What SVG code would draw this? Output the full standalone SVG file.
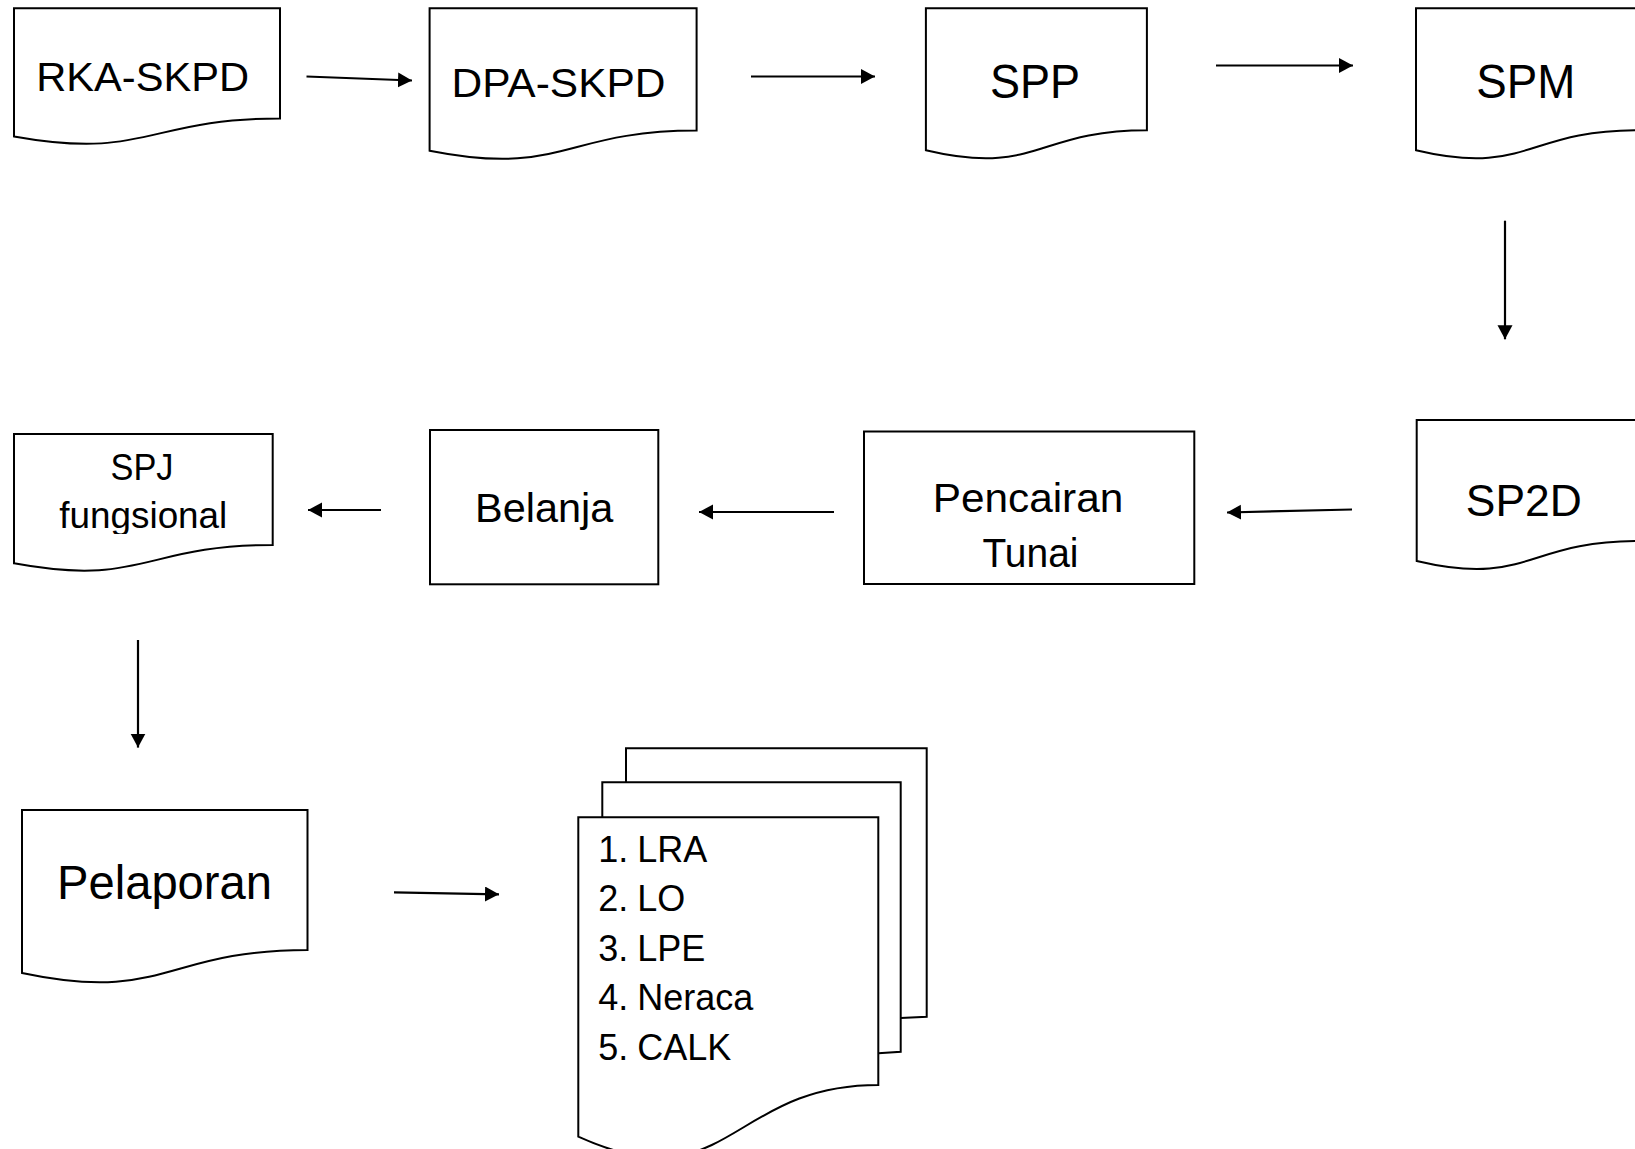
<svg xmlns="http://www.w3.org/2000/svg" width="1635" height="1149" viewBox="0 0 1635 1149">
<style>
.shape{fill:#fff;stroke:#000;stroke-width:2}
.conn{fill:none;stroke:#000;stroke-width:2.2}
text{font-family:"Liberation Sans",Arial,sans-serif;fill:#000}
.c{text-anchor:middle}
</style>
<defs>
<marker id="ah" markerUnits="userSpaceOnUse" markerWidth="16" markerHeight="16" refX="14" refY="7.5" orient="auto">
<path d="M0,0 L14,7.5 L0,15 Z" fill="#000"/>
</marker>
<clipPath id="clipSPJ"><rect x="14" y="434" width="259" height="100"/></clipPath>
</defs>
<rect width="1635" height="1149" fill="#fff"/>

<g id="rka-skpd">
<path class="shape" d="M14,8.3 H280 V118.4 C147,118.4 147,160.4 14,136.5 Z"/>
<text class="c" x="142.7" y="90.7" font-size="40.5" textLength="213" lengthAdjust="spacingAndGlyphs">RKA-SKPD</text>
</g>
<g id="dpa-skpd">
<path class="shape" d="M429.6,8.3 H696.6 V130.6 C563.1,130.6 563.1,177.2 429.6,150.7 Z"/>
<text class="c" x="558.5" y="96.5" font-size="40.5" textLength="214" lengthAdjust="spacingAndGlyphs">DPA-SKPD</text>
</g>
<g id="spp">
<path class="shape" d="M925.9,8.3 H1146.9 V130.2 C1036.4,130.2 1036.4,176.6 925.9,150.3 Z"/>
<text class="c" x="1035" y="97.7" font-size="48" textLength="90" lengthAdjust="spacingAndGlyphs">SPP</text>
</g>
<g id="spm">
<path class="shape" d="M1416,8.3 H1637 V130.2 C1526.5,130.2 1526.5,176.6 1416,150.3 Z"/>
<text class="c" x="1525.8" y="97.7" font-size="48" textLength="99" lengthAdjust="spacingAndGlyphs">SPM</text>
</g>
<g id="sp2d">
<path class="shape" d="M1416.7,420 H1637.7 V541.1 C1527.2,541.1 1527.2,587.2 1416.7,561 Z"/>
<text class="c" x="1523.8" y="516" font-size="45" textLength="116" lengthAdjust="spacingAndGlyphs">SP2D</text>
</g>
<g id="pencairan-tunai">
<rect class="shape" x="864" y="431.5" width="330.3" height="152.5"/>
<text class="c" x="1028" y="511.7" font-size="40" textLength="190.6" lengthAdjust="spacingAndGlyphs">Pencairan</text>
<text class="c" x="1030.5" y="566.7" font-size="40" textLength="96" lengthAdjust="spacingAndGlyphs">Tunai</text>
</g>
<g id="belanja">
<rect class="shape" x="430" y="430" width="228.3" height="154.3"/>
<text class="c" x="544.2" y="521.7" font-size="41" textLength="138.3" lengthAdjust="spacingAndGlyphs">Belanja</text>
</g>
<g id="spj-fungsional">
<path class="shape" d="M14,434 H272.7 V545 C143.4,545 143.4,587.3 14,563.3 Z"/>
<g clip-path="url(#clipSPJ)">
<text class="c" x="142" y="480" font-size="36" textLength="63" lengthAdjust="spacingAndGlyphs">SPJ</text>
<text class="c" x="143.3" y="528.3" font-size="37" textLength="168" lengthAdjust="spacingAndGlyphs">fungsional</text>
</g>
</g>
<g id="pelaporan">
<path class="shape" d="M22,810 H307.5 V950 C164.8,950 164.8,1003.3 22,973 Z"/>
<text class="c" x="164.5" y="899.3" font-size="48" textLength="215" lengthAdjust="spacingAndGlyphs">Pelaporan</text>
</g>
<g id="laporan-keuangan">
<path class="shape" d="M626,782.3 V748.3 H926.7 V1016.7 L900.7,1018"/>
<path class="shape" d="M602.3,817.3 V782.3 H900.7 V1051.7 L878.3,1053.3"/>
<path class="shape" d="M578.3,817.3 H878.3 V1085 C728.3,1085 728.3,1204.6 578.3,1136.7 Z"/>
<g font-size="36">
<text x="598.3" y="861.7">1.</text><text x="637.3" y="861.7">LRA</text>
<text x="598.3" y="911.2">2.</text><text x="637.3" y="911.2">LO</text>
<text x="598.3" y="960.7">3.</text><text x="637.3" y="960.7">LPE</text>
<text x="598.3" y="1010.2">4.</text><text x="637.3" y="1010.2">Neraca</text>
<text x="598.3" y="1059.7">5.</text><text x="637.3" y="1059.7">CALK</text>
</g>
</g>

<g id="connectors">
<line class="conn" x1="306.5" y1="76.5" x2="412" y2="80.5" marker-end="url(#ah)"/>
<line class="conn" x1="751" y1="76.5" x2="875" y2="76.5" marker-end="url(#ah)"/>
<line class="conn" x1="1216" y1="65.5" x2="1353" y2="65.5" marker-end="url(#ah)"/>
<line class="conn" x1="1505" y1="220.7" x2="1505" y2="339.3" marker-end="url(#ah)"/>
<line class="conn" x1="1352" y1="509.5" x2="1227" y2="512.5" marker-end="url(#ah)"/>
<line class="conn" x1="834" y1="512" x2="699" y2="512" marker-end="url(#ah)"/>
<line class="conn" x1="381" y1="510" x2="308" y2="510" marker-end="url(#ah)"/>
<line class="conn" x1="138" y1="640" x2="138" y2="747.6" marker-end="url(#ah)"/>
<line class="conn" x1="394" y1="892.3" x2="499" y2="894.3" marker-end="url(#ah)"/>
</g>
</svg>
